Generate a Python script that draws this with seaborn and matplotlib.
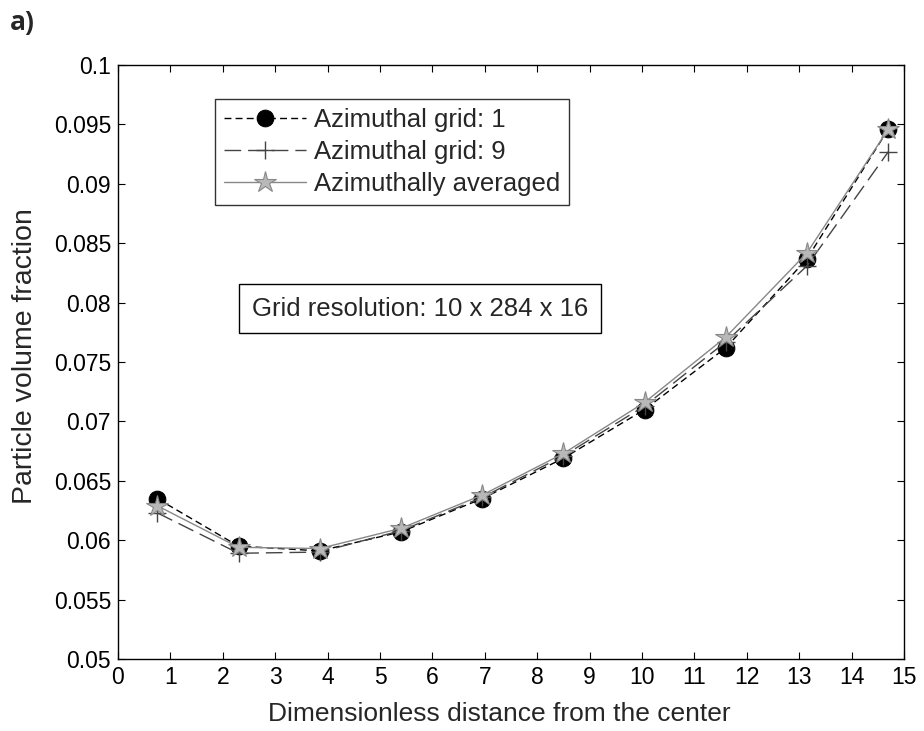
import numpy as np
import pandas as pd
import matplotlib
matplotlib.use("Agg")
import matplotlib.pyplot as plt
import seaborn as sns

# ---- data ----
distance = [0.75, 2.3, 3.85, 5.4, 6.95, 8.5, 10.05, 11.6, 13.15, 14.7]
grid1 = [0.0635, 0.0595, 0.0591, 0.0607, 0.0635, 0.0669, 0.0710, 0.0762, 0.0837, 0.0946]
grid9 = [0.0623, 0.0589, 0.0590, 0.0608, 0.0636, 0.0671, 0.0713, 0.0767, 0.0831, 0.0927]
averaged = [0.0629, 0.0594, 0.0593, 0.0610, 0.0638, 0.0673, 0.0716, 0.0771, 0.0842, 0.0946]
series_names = ["Azimuthal grid: 1", "Azimuthal grid: 9", "Azimuthally averaged"]
x_ticks = list(range(0, 16))
y_ticks = [0.05, 0.055, 0.06, 0.065, 0.07, 0.075, 0.08, 0.085, 0.09, 0.095, 0.1]
y_tick_labels = ["0.05", "0.055", "0.06", "0.065", "0.07", "0.075", "0.08", "0.085", "0.09", "0.095", "0.1"]

sns.set_style("ticks")
plt.rcParams["font.family"] = ["Liberation Sans", "DejaVu Sans"]

fig = plt.figure(figsize=(9.24, 7.31), dpi=100)
ax = fig.add_axes([0.1277, 0.0985, 0.8507, 0.8126])

df = pd.DataFrame({"x": distance, "g1": grid1, "g9": grid9, "av": averaged})

sns.lineplot(data=df, x="x", y="g1", ax=ax, color="black", linewidth=1.0,
             linestyle=(0, (5, 3)), marker="o", markersize=12,
             markerfacecolor="black", markeredgecolor="black",
             label=series_names[0])
sns.lineplot(data=df, x="x", y="g9", ax=ax, color="#444444", linewidth=1.0,
             linestyle=(0, (12, 5)), marker="+", markersize=13,
             markeredgewidth=1.0, markeredgecolor="#444444",
             label=series_names[1])
sns.lineplot(data=df, x="x", y="av", ax=ax, color="#888888", linewidth=1.0,
             linestyle="-", marker="*", markersize=16,
             markerfacecolor="#b8b8b8", markeredgecolor="#888888",
             markeredgewidth=0.8, label=series_names[2])

ax.set_xlim(0, 15)
ax.set_ylim(0.05, 0.1)
ax.set_xticks(x_ticks)
ax.set_yticks(y_ticks)
ax.set_yticklabels(y_tick_labels)
ax.tick_params(direction="in", length=5, width=0.8, labelsize=16.5, pad=5,
               top=True, right=True, colors="black")
for s in ax.spines.values():
    s.set_visible(True)
    s.set_linewidth(1.0)
    s.set_color("black")

ax.set_xlabel("Dimensionless distance from the center", fontsize=19)
ax.set_ylabel("Particle volume fraction", fontsize=20.5)
ax.xaxis.set_label_coords(0.485, -0.072)
ax.yaxis.set_label_coords(-0.1015, 0.51)

leg = ax.legend(loc="upper left", bbox_to_anchor=(0.123, 0.942), fontsize=18.5,
                frameon=True, fancybox=False, edgecolor="black",
                handlelength=3.2, borderpad=0.35, labelspacing=0.3,
                handletextpad=0.3, borderaxespad=0)
leg.get_frame().set_linewidth(1.0)

ax.text(5.76, 0.0795, "Grid resolution: 10 x 284 x 16", fontsize=18.5,
        ha="center", va="center",
        bbox=dict(boxstyle="square,pad=0.5", facecolor="white",
                  edgecolor="black", linewidth=1.0))

fig.text(0.011, 0.969, "a)", fontsize=19, fontweight="bold",
         family=["Open Sans", "DejaVu Sans"], ha="left", va="center")

fig.savefig("out.png", dpi=100)
